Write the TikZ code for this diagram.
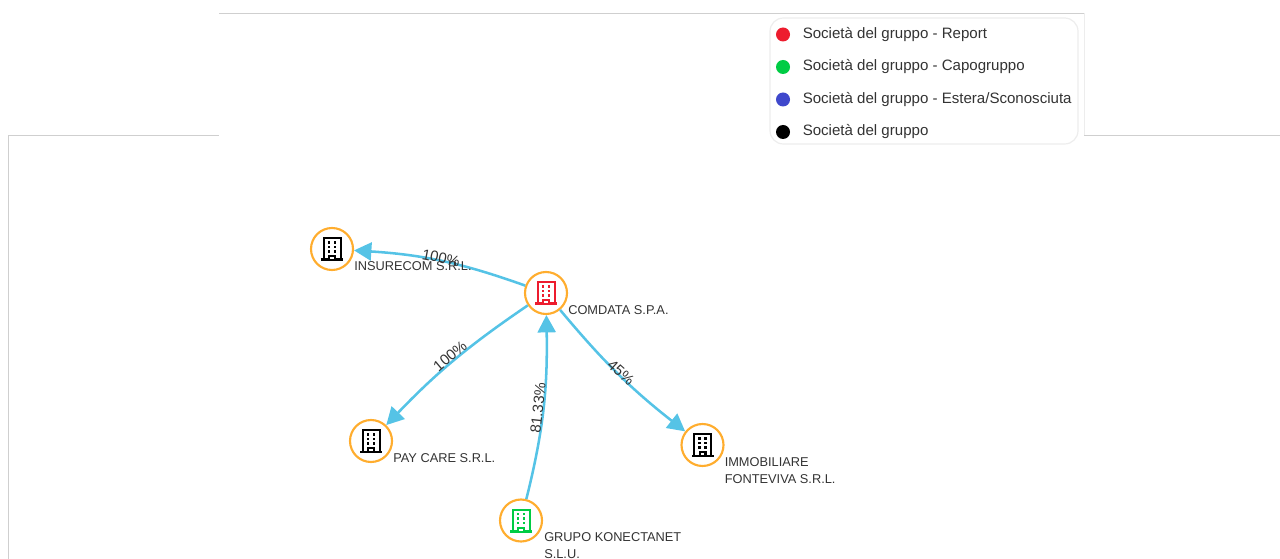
\documentclass[tikz,border=0pt]{standalone}
\usepackage{fontspec}
\setmainfont{Liberation Sans}
\usetikzlibrary{arrows.meta}
\definecolor{ringc}{HTML}{FFAD2E}
\definecolor{edgec}{HTML}{55C3E6}
\definecolor{redc}{HTML}{ED1C2E}
\definecolor{greenc}{HTML}{00CC44}
\definecolor{bluec}{HTML}{3F48CC}
\definecolor{txtc}{HTML}{333333}
\definecolor{framec}{HTML}{CFCFCF}
\definecolor{framel}{HTML}{EDEDED}
\tikzset{
  x=0.75pt,y=-0.75pt,
  ring/.style={circle,draw=ringc,line width=1.6pt,minimum size=31.5pt,inner sep=0pt,fill=white},
  edgeline/.style={draw=edgec,line width=1.9pt,-{Triangle[length=13pt,width=13.5pt]}},
  edgelabel/.style={text=txtc,font=\fontsize{11.2pt}{12pt}\selectfont,inner sep=0pt},
  namelabel/.style={text=txtc,font=\fontsize{9.6pt}{12.7pt}\selectfont,inner sep=0pt,anchor=north west,align=left},
  legendtext/.style={text=txtc,font=\fontsize{11.3pt}{13pt}\selectfont,inner sep=0pt,anchor=west},
  legenddot/.style={circle,minimum size=10.5pt,inner sep=0pt},
  frameline/.style={draw=framec,line width=0.8pt},
  building/.pic={
    \fill[pic actions] (-11,12) rectangle (11,9.5);
    \draw[pic actions,fill=none,line width=1.5pt] (-8.5,10) -- (-8.5,-10.6) -- (8.5,-10.6) -- (8.5,10);
    \fill[pic actions] (-4,10) rectangle (4,6);
    \fill[white] (-1.6,10) rectangle (1.6,8);
    \foreach \wx in {-3,3}{
      \foreach \wy in {-6.4,-1.9,2.6}{
        \fill[pic actions] (\wx-1.4,\wy-1.2) rectangle (\wx+1.4,\wy+1.2);
      }
    }
  }
}
\begin{document}
\begin{tikzpicture}
\useasboundingbox (0,0) rectangle (1280,559);
% page frames
\coordinate (f1) at (8.5,559);
\coordinate (f2) at (8.5,135.5);
\coordinate (f3) at (219,135.5);
\coordinate (f4) at (219,13.5);
\coordinate (f5) at (1084,13.5);
\coordinate (f6) at (1084,135.5);
\coordinate (f7) at (1280,135.5);
\draw[frameline] (f1) -- (f2) -- (f3);
\draw[frameline] (f4) -- (f5);
\draw[framel,line width=0.6pt] (f5) -- (f6);
\draw[frameline] (f6) -- (f7);
% legend
\node[draw=framel,line width=0.9pt,rounded corners=10pt,fill=white,minimum width=231pt,minimum height=94.5pt,inner sep=0pt] (legend) at (924,81) {};
\node[legenddot,fill=redc] (d1) at (783,34.5) {};
\node[legenddot,fill=greenc] (d2) at (783,67) {};
\node[legenddot,fill=bluec] (d3) at (783,99.5) {};
\node[legenddot,fill=black] (d4) at (783,132) {};
\node[legendtext] (l1) at (802.5,34.5) {Società del gruppo - Report};
\node[legendtext] (l2) at (802.5,67) {Società del gruppo - Capogruppo};
\node[legendtext] (l3) at (802.5,99.5) {Società del gruppo - Estera/Sconosciuta};
\node[legendtext] (l4) at (802.5,132) {Società del gruppo};
% nodes
\node[ring] (insurecom) at (332,249) {};
\node[ring] (comdata) at (546,293) {};
\node[ring] (paycare) at (371,441) {};
\node[ring] (grupo) at (521,520.5) {};
\node[ring] (immobiliare) at (702.5,445) {};
\pic[black] at (insurecom) {building};
\pic[redc] at (comdata) {building};
\pic[black] at (paycare) {building};
\pic[greenc] at (grupo) {building};
\pic[black] at (immobiliare) {building};
% connectors
\draw[edgeline] (comdata) to[bend right=8] (insurecom);
\draw[edgeline] (comdata) to[bend right=6] (paycare);
\draw[edgeline] (grupo) to[out=76,in=-89] (comdata);
\draw[edgeline] (comdata) to[bend right=6] (immobiliare);
% names
\node[namelabel] (n1) at (354,261) {INSURECOM S.R.L.};
\node[namelabel] (n2) at (568,305.5) {COMDATA S.P.A.};
\node[namelabel] (n3) at (393,453) {PAY CARE S.R.L.};
\node[namelabel] (n4) at (544,532.5) {GRUPO KONECTANET\\S.L.U.};
\node[namelabel] (n5) at (724.5,457) {IMMOBILIARE\\FONTEVIVA S.R.L.};
% percentages
\node[edgelabel,rotate=-11] (p1) at (441,258) {100\%};
\node[edgelabel,rotate=40] (p2) at (450,356) {100\%};
\node[edgelabel,rotate=84] (p3) at (538,408) {81.33\%};
\node[edgelabel,rotate=-42] (p4) at (621,372.5) {45\%};
\end{tikzpicture}
\end{document}
